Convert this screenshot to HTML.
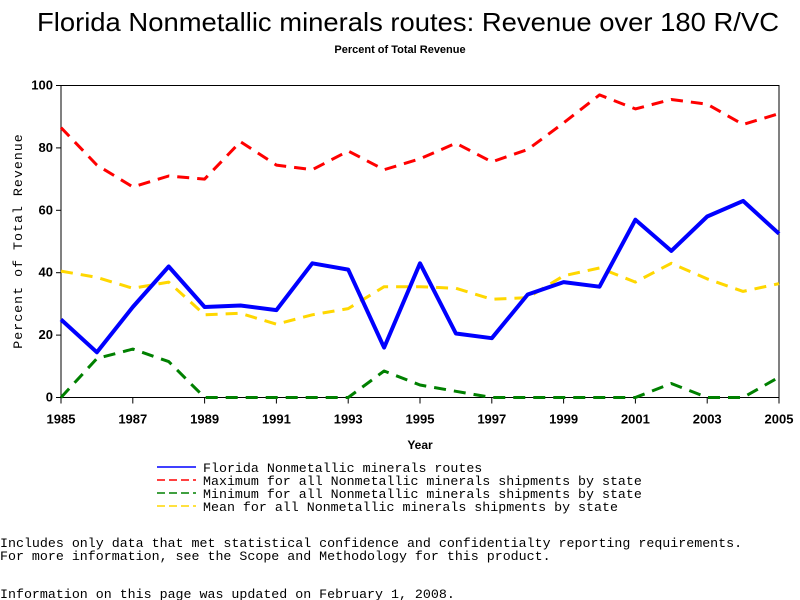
<!DOCTYPE html>
<html><head><meta charset="utf-8"><style>
html,body{margin:0;padding:0;background:#fff;width:800px;height:600px;overflow:hidden}
svg{display:block}
.m{font-family:"Liberation Mono",monospace;font-size:13.3px}
.b{font-family:"Liberation Sans",sans-serif;font-weight:bold}
</style></head><body>
<svg id="chart" width="800" height="600" xmlns="http://www.w3.org/2000/svg">
<text x="37" y="31" font-family="Liberation Sans, sans-serif" font-size="26" textLength="742" lengthAdjust="spacingAndGlyphs">Florida Nonmetallic minerals routes: Revenue over 180 R/VC</text>
<text class="b" x="400" y="53" text-anchor="middle" font-size="11">Percent of Total Revenue</text>
<rect x="61" y="85.5" width="718" height="312" fill="none" stroke="#000" stroke-width="1"/>
<g id="axes"></g>
<g id="series"></g>
<text class="b" x="420" y="449" text-anchor="middle" font-size="12">Year</text>
<text class="m" font-size="12" x="0" y="0" transform="translate(22,241) rotate(-90)" text-anchor="middle" letter-spacing="1">Percent of Total Revenue</text>
<g>
<line x1="157" y1="467" x2="196" y2="467" stroke="#0000ff" stroke-width="1.5"/>
<line x1="157" y1="480" x2="196" y2="480" stroke="#ff0000" stroke-width="1.5" stroke-dasharray="8,4"/>
<line x1="157" y1="493" x2="196" y2="493" stroke="#008000" stroke-width="1.5" stroke-dasharray="8,4"/>
<line x1="157" y1="506" x2="196" y2="506" stroke="#ffd700" stroke-width="1.5" stroke-dasharray="8,4"/>
<text class="m" x="203" y="472">Florida Nonmetallic minerals routes</text>
<text class="m" x="203" y="485">Maximum for all Nonmetallic minerals shipments by state</text>
<text class="m" x="203" y="498">Minimum for all Nonmetallic minerals shipments by state</text>
<text class="m" x="203" y="511">Mean for all Nonmetallic minerals shipments by state</text>
</g>
<text class="m" x="0" y="547">Includes only data that met statistical confidence and confidentialty reporting requirements.</text>
<text class="m" x="0" y="560">For more information, see the Scope and Methodology for this product.</text>
<text class="m" x="0" y="598">Information on this page was updated on February 1, 2008.</text>
</svg>
<script>
const years = [1985,1986,1987,1988,1989,1990,1991,1992,1993,1994,1995,1996,1997,1998,1999,2000,2001,2002,2003,2004,2005];
const florida = [25,14.5,29,42,29,29.5,28,43,41,16,43,20.5,19,33,37,35.5,57,47,58,63,52.5];
const maxVals = [86.5,74.5,67.5,71,70,82,74.5,73,79,73,76.5,81.5,75.5,79.5,88,97,92.5,95.5,94,87.5,91];
const minVals = [0,12.5,15.5,11.5,0,0,0,0,0,8.5,4,2,0,0,0,0,0,4.5,0,0,6.5];
const meanVals = [40.5,38.5,35,37,26.5,27,23.5,26.5,28.5,35.5,35.5,35,31.5,32,39,41.5,37,43,38,34,36.5];
const yTicks = [0,20,40,60,80,100];
const xTicks = [1985,1987,1989,1991,1993,1995,1997,1999,2001,2003,2005];
const NS='http://www.w3.org/2000/svg';
const X0=61,X1=779,Y0=397.5,Y1=85.5;
function xs(v){return X0+(v-years[0])/(years[years.length-1]-years[0])*(X1-X0);}
function ys(v){return Y0-v/100*(Y0-Y1);}
const axes=document.getElementById('axes');
function mk(tag,attrs,parent){const e=document.createElementNS(NS,tag);for(const k in attrs)e.setAttribute(k,attrs[k]);parent.appendChild(e);return e;}
yTicks.forEach(t=>{
  const l=mk('line',{x1:X0-5,x2:X0,y1:ys(t),y2:ys(t),stroke:'#000'},axes);
  
  
  const tx=mk('text',{x:X0-8,y:ys(t)+4,'text-anchor':'end','class':'b','font-size':'13'},axes);
  tx.textContent=t;
  
  
});
xTicks.forEach(t=>{
  const l=mk('line',{x1:xs(t),x2:xs(t),y1:Y0,y2:Y0+6,stroke:'#000'},axes);
  
  
  const tx=mk('text',{x:xs(t),y:Y0+26,'text-anchor':'middle','class':'b','font-size':'13'},axes);
  tx.textContent=t;
  
  
});
const series=document.getElementById('series');
function draw(vals,color,w,dash,name){
  const pts=vals.map((v,i)=>xs(years[i]).toFixed(1)+','+ys(v).toFixed(1)).join(' ');
  const p=mk('polyline',{points:pts,fill:'none',stroke:color,'stroke-width':w,'stroke-linejoin':'round'},series);
  if(dash)p.setAttribute('stroke-dasharray',dash);
  
  
}
draw(maxVals,'#ff0000',3,'12,8','max-line');
draw(minVals,'#008000',3,'12,8','min-line');
draw(meanVals,'#ffd700',3,'12,8','mean-line');
draw(florida,'#0000ff',4,null,'florida-line');
</script>
</body></html>
